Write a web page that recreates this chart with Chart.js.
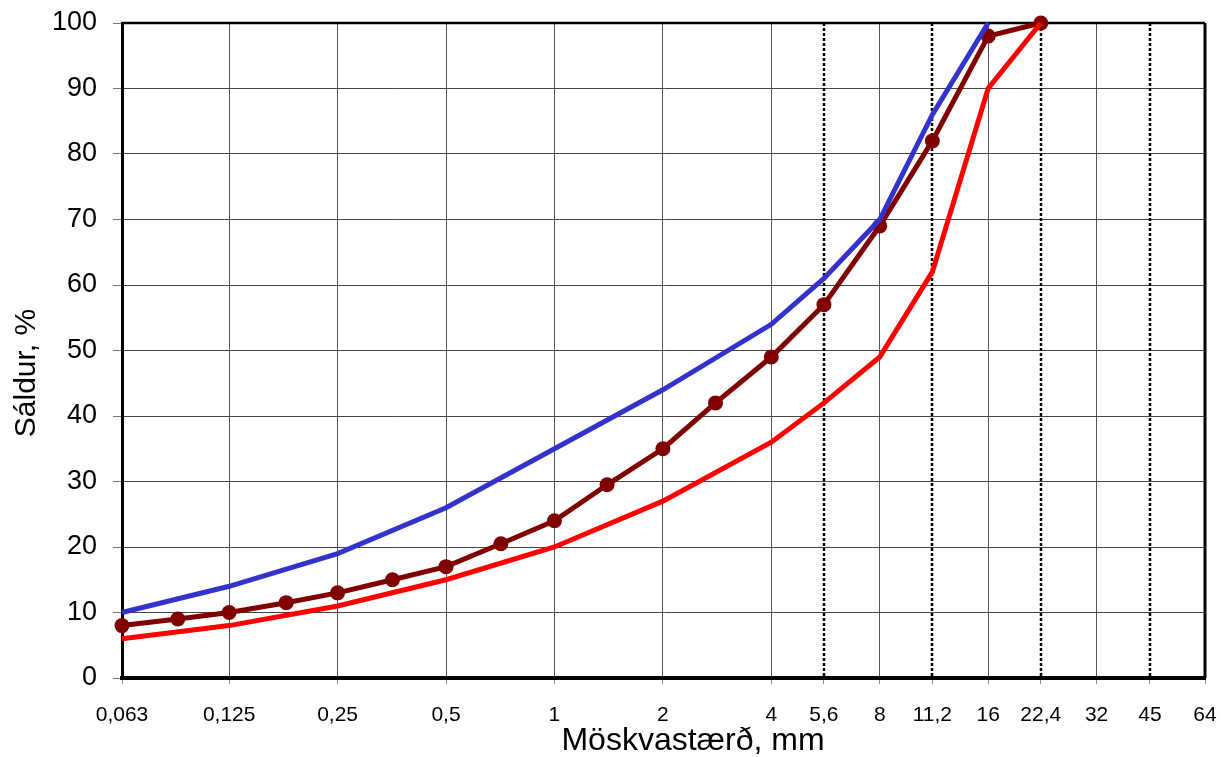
<!DOCTYPE html>
<html>
<head>
<meta charset="utf-8">
<script src="https://cdn.jsdelivr.net/npm/chart.js@4/dist/chart.umd.min.js"></script>
<style>
  body { margin: 0; background: #fff; }
</style>
</head>
<body>
<canvas id="chart" width="1221" height="757"></canvas>
<script>
// sieve sizes shown on the x axis (mm)
const sieves = [0.063, 0.125, 0.25, 0.5, 1, 2, 4, 5.6, 8, 11.2, 16, 22.4, 32, 45, 64]
// sieves drawn as dotted lines
const dottedSieves = [5.6, 11.2, 22.4, 45]

// upper limit (blue)
const upperX = [0.063, 0.125, 0.25, 0.5, 1, 2, 4, 5.6, 8, 11.2, 16]
const upperY = [10, 14, 19, 26, 35, 44, 54, 61, 70, 86, 100]

// lower limit (red)
const lowerX = [0.063, 0.125, 0.25, 0.5, 1, 2, 4, 5.6, 8, 11.2, 16, 22.4]
const lowerY = [6, 8, 11, 15, 20, 27, 36, 42, 49, 62, 90, 100]

// sample (dark red with markers)
const sampleX = [0.063, 0.09, 0.125, 0.18, 0.25, 0.355, 0.5, 0.71, 1, 1.4, 2, 2.8, 4, 5.6, 8, 11.2, 16, 22.4]
const sampleY = [8, 9, 10, 11.5, 13, 15, 17, 20.5, 24, 29.5, 35, 42, 49, 57, 69, 82, 98, 100]

const yTicks = [0, 10, 20, 30, 40, 50, 60, 70, 80, 90, 100]

const xTitle = 'Möskvastærð, mm'
const yTitle = 'Sáldur, %'

function toPoints(xs, ys) {
    return xs.map((x, i) => ({ x: x, y: ys[i] }))
}

function fmt(v) {
    return String(v).replace('.', ',')
}

const fontFamily = '"Liberation Sans", Arial, sans-serif'

// dotted sieve lines plus the heavy top/right frame
const framePlugin = {
    id: 'frame',
    beforeDatasetsDraw(chart) {
        const ctx = chart.ctx
        const area = chart.chartArea
        const xs = chart.scales.x
        ctx.save()
        ctx.strokeStyle = '#000'
        ctx.lineWidth = 2.5
        ctx.setLineDash([3, 2])
        dottedSieves.forEach(v => {
            const px = Math.round(xs.getPixelForValue(v))
            ctx.beginPath()
            ctx.moveTo(px, area.top)
            ctx.lineTo(px, area.bottom)
            ctx.stroke()
        })
        ctx.setLineDash([])
        ctx.lineWidth = 2.5
        ctx.beginPath()
        ctx.moveTo(area.left, area.top)
        ctx.lineTo(area.right, area.top)
        ctx.stroke()
        ctx.lineWidth = 3
        ctx.beginPath()
        ctx.moveTo(area.right, area.top)
        ctx.lineTo(area.right, area.bottom)
        ctx.stroke()
        ctx.restore()
    },
    // axis titles, placed off-centre like the original
    afterDraw(chart) {
        const ctx = chart.ctx
        ctx.save()
        ctx.fillStyle = '#000'
        ctx.textAlign = 'center'
        ctx.textBaseline = 'middle'
        ctx.font = '32px ' + fontFamily
        ctx.fillText(xTitle, 693, 741)
        ctx.font = '30px ' + fontFamily
        ctx.translate(27, 373)
        ctx.rotate(-Math.PI / 2)
        ctx.fillText(yTitle, 0, 0)
        ctx.restore()
    }
}

const chart = new Chart(document.getElementById('chart'), {
    type: 'scatter',
    data: {
        datasets: [
            {
                label: 'Efri mörk',
                data: toPoints(upperX, upperY),
                showLine: true,
                borderColor: '#3333cc',
                borderWidth: 5,
                pointRadius: 0,
                clip: false
            },
            {
                label: 'Neðri mörk',
                data: toPoints(lowerX, lowerY),
                showLine: true,
                borderColor: '#ff0000',
                borderWidth: 5,
                pointRadius: 0,
                clip: false
            },
            {
                label: 'Sýni',
                data: toPoints(sampleX, sampleY),
                showLine: true,
                borderColor: '#800000',
                backgroundColor: '#800000',
                borderWidth: 5,
                pointRadius: 7.5,
                pointBorderWidth: 0,
                clip: false
            }
        ]
    },
    plugins: [framePlugin],
    options: {
        responsive: false,
        animation: false,
        layout: { padding: { left: 0, right: 16, top: 23, bottom: 0 } },
        plugins: {
            legend: { display: false },
            tooltip: { enabled: false }
        },
        scales: {
            x: {
                type: 'logarithmic',
                min: 0.063,
                max: 64,
                afterBuildTicks: (scale) => {
                    scale.ticks = sieves.map(v => ({ value: v }))
                },
                afterFit: (scale) => {
                    scale.height = 79
                    scale.paddingLeft = 0
                    scale.paddingRight = 0
                },
                ticks: {
                    autoSkip: false,
                    maxRotation: 0,
                    padding: 19,
                    color: '#000',
                    font: { family: fontFamily, size: 21 },
                    callback: (v) => fmt(v)
                },
                grid: {
                    color: (c) => dottedSieves.includes(c.tick && c.tick.value) ? 'rgba(0,0,0,0)' : '#555',
                    tickColor: '#888',
                    lineWidth: 1,
                    tickLength: 6
                },
                border: { color: '#000', width: 4 }
            },
            y: {
                min: 0,
                max: 100,
                afterBuildTicks: (scale) => {
                    scale.ticks = yTicks.map(v => ({ value: v }))
                },
                afterFit: (scale) => {
                    scale.width = 122
                    scale.paddingTop = 0
                    scale.paddingBottom = 0
                },
                ticks: {
                    padding: 16,
                    color: '#000',
                    font: { family: fontFamily, size: 27 }
                },
                grid: {
                    color: '#444',
                    tickColor: '#777',
                    lineWidth: 1,
                    tickLength: 9
                },
                border: { color: '#000', width: 3 }
            }
        }
    }
})
</script>
</body>
</html>
